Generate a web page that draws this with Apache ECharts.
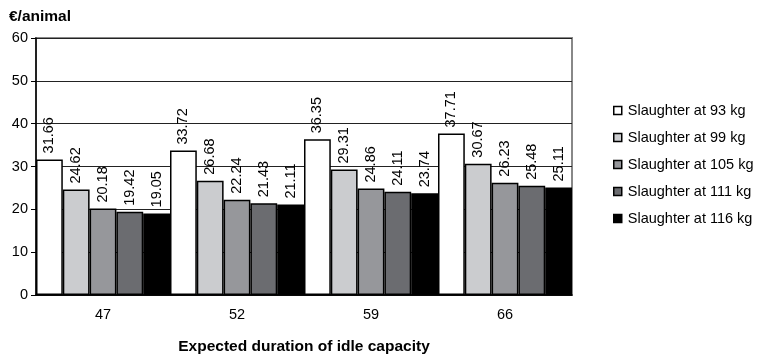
<!DOCTYPE html>
<html>
<head>
<meta charset="utf-8">
<script src="https://cdn.jsdelivr.net/npm/echarts@6/dist/echarts.min.js"></script>
<style>
    html, body { margin: 0; padding: 0; background: #fff; }
    #chart { width: 765px; height: 355px; }
</style>
</head>
<body>
<div id="chart"></div>
<script type="text/javascript">
    // categories: expected duration of idle capacity
    var durations = ['47', '52', '59', '66'];
    var seriesNames = ['Slaughter at 93 kg', 'Slaughter at 99 kg', 'Slaughter at 105 kg',
        'Slaughter at 111 kg', 'Slaughter at 116 kg'];
    var at93 = [31.66, 33.72, 36.35, 37.71];
    var at99 = [24.62, 26.68, 29.31, 30.67];
    var at105 = [20.18, 22.24, 24.86, 26.23];
    var at111 = [19.42, 21.43, 24.11, 25.48];
    var at116 = [19.05, 21.11, 23.74, 25.11];
    var yTicks = [0, 10, 20, 30, 40, 50, 60];

    var colors = ['#ffffff', '#cbcccf', '#96979b', '#6b6c70', '#000000'];
    var values = [at93, at99, at105, at111, at116];
    var font = 'Liberation Sans, Arial, sans-serif';

    var series = [];
    for (var i = 0; i < values.length; i++) {
        series.push({
            name: seriesNames[i],
            type: 'bar',
            data: values[i],
            barGap: '0%',
            barCategoryGap: '0%',
            itemStyle: { color: colors[i], borderColor: '#000', borderWidth: 1.5 },
            label: {
                show: true,
                position: 'top',
                rotate: 90,
                align: 'left',
                verticalAlign: 'middle',
                distance: 6,
                color: '#000',
                fontSize: 14.5,
                fontFamily: font,
                formatter: function (p) { return p.value.toFixed(2); }
            }
        });
    }

    var option = {
        animation: false,
        textStyle: { fontFamily: font },
        grid: {
            left: 36, right: 193, top: 38, bottom: 60,
            outerBoundsMode: 'none',
            show: true, borderColor: '#888', borderWidth: 2
        },
        legend: {
            orient: 'vertical',
            left: 608,
            top: 98,
            itemWidth: 8,
            itemHeight: 8,
            itemGap: 12,
            icon: 'rect',
            itemStyle: { borderColor: '#000', borderWidth: 1.5 },
            textStyle: { fontSize: 14.5, lineHeight: 15, color: '#000', fontFamily: font, padding: [0, 0, 0, 1] }
        },
        xAxis: {
            type: 'category',
            data: durations,
            name: 'Expected duration of idle capacity',
            nameLocation: 'middle',
            nameGap: 44,
            nameTextStyle: { fontSize: 15.5, fontWeight: 'bold', color: '#000', fontFamily: font },
            axisLine: { lineStyle: { color: '#000', width: 1.5 } },
            axisTick: { length: 5, lineStyle: { color: '#000' } },
            axisLabel: { fontSize: 14.5, color: '#000', margin: 12, fontFamily: font }
        },
        yAxis: {
            type: 'value',
            min: yTicks[0],
            max: yTicks[yTicks.length - 1],
            interval: 10,
            name: '€/animal',
            nameLocation: 'end',
            nameGap: 13,
            nameTextStyle: { fontSize: 15.5, fontWeight: 'bold', color: '#000', align: 'left', padding: [0, 0, 0, -27], fontFamily: font },
            axisLine: { show: true, lineStyle: { color: '#000', width: 1.5 } },
            axisTick: { show: true, length: 5, lineStyle: { color: '#000' } },
            axisLabel: { fontSize: 14.5, color: '#000', margin: 8, fontFamily: font },
            splitLine: { lineStyle: { color: '#222', width: 1 } }
        },
        series: series
    };

    var myChart = echarts.init(document.getElementById('chart'));
    myChart.setOption(option);
</script>
</body>
</html>
